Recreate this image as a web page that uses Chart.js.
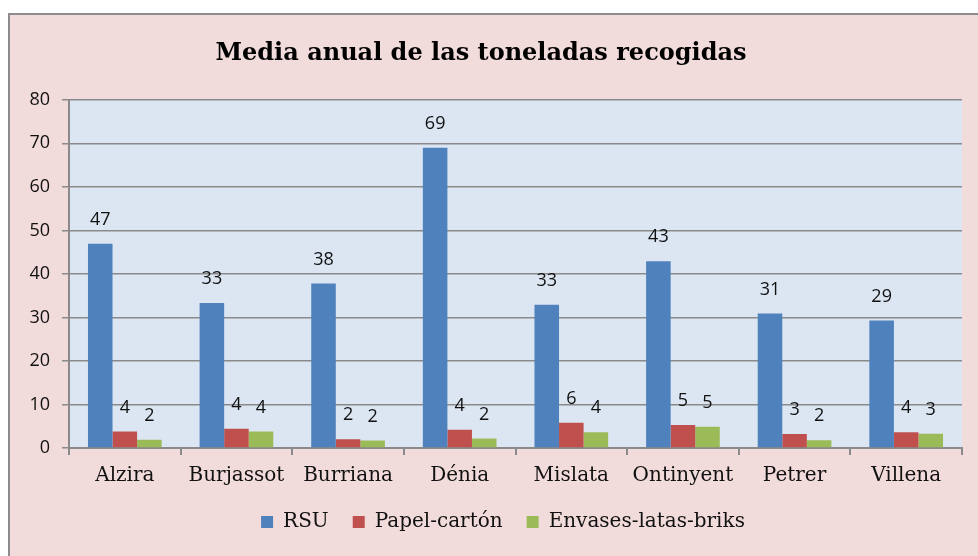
<!DOCTYPE html>
<html>
<head>
<meta charset="utf-8">
<script src="https://cdn.jsdelivr.net/npm/chart.js@4.4.1/dist/chart.umd.min.js"></script>
<style>
  html, body { margin: 0; padding: 0; background: #ffffff; }
  #frame {
    position: absolute; left: 8px; top: 13px; width: 990px; height: 570px;
    background: #f2dcdb; border: 2px solid #8c8c8c;
  }
  #wrap { position: absolute; left: 0; top: 0; width: 978px; height: 556px; }
</style>
</head>
<body>
<div id="frame"></div>
<div id="wrap"><canvas id="myChart" width="978" height="556"></canvas></div>
<script>
  const ciudades = ['Alzira', 'Burjassot', 'Burriana', 'Dénia', 'Mislata', 'Ontinyent', 'Petrer', 'Villena']
  const rsu = [46.9, 33.3, 37.8, 69.0, 32.9, 42.9, 30.9, 29.3]
  const papel = [3.8, 4.4, 2.0, 4.2, 5.8, 5.3, 3.2, 3.6]
  const envases = [1.9, 3.8, 1.7, 2.2, 3.6, 4.9, 1.8, 3.3]
  const yTicks = [0, 10, 20, 30, 40, 50, 60, 70, 80]

  const gris = '#8a8a8a'
  const serif = 'DejaVu Serif'
  const sans = 'Open Sans'

  // fondo azul del area de trazado
  const fondoPlot = {
    id: 'fondoPlot',
    beforeDraw(chart) {
      const a = chart.chartArea
      const ctx = chart.ctx
      ctx.save()
      ctx.fillStyle = '#dce6f2'
      ctx.fillRect(a.left, a.top, a.right - a.left, a.bottom - a.top)
      ctx.restore()
    }
  }

  // la leyenda va centrada bajo el area de trazado, no bajo todo el lienzo
  const moverLeyenda = {
    id: 'moverLeyenda',
    afterLayout(chart) {
      chart.legend.left += 22
      chart.legend.right += 22
    }
  }

  // etiquetas de valor encima de cada barra
  const etiquetas = {
    id: 'etiquetas',
    afterDatasetsDraw(chart) {
      const ctx = chart.ctx
      ctx.save()
      ctx.font = '18px "' + sans + '"'
      ctx.fillStyle = '#111111'
      ctx.textAlign = 'center'
      ctx.textBaseline = 'middle'
      chart.data.datasets.forEach(function(ds, i) {
        chart.getDatasetMeta(i).data.forEach(function(bar, j) {
          ctx.fillText(String(Math.round(ds.data[j])), bar.x, bar.y - 24)
        })
      })
      ctx.restore()
    }
  }

  const data = {
    labels: ciudades,
    datasets: [{
      label: 'RSU',
      backgroundColor: '#4f81bd',
      data: rsu,
    }, {
      label: 'Papel-cartón',
      backgroundColor: '#c0504d',
      data: papel,
    }, {
      label: 'Envases-latas-briks',
      backgroundColor: '#9bbb59',
      data: envases,
    }]
  }

  const config = {
    type: 'bar',
    data: data,
    options: {
      responsive: false,
      animation: false,
      datasets: { bar: { categoryPercentage: 0.66, barPercentage: 1 } },
      layout: { padding: { left: 0, right: 16, top: 0, bottom: 14 } },
      plugins: {
        title: {
          display: true,
          text: 'Media anual de las toneladas recogidas',
          color: '#000000',
          font: { family: serif, size: 24, weight: 'bold', lineHeight: 1.2 },
          padding: { top: 39, bottom: 32 }
        },
        legend: {
          position: 'bottom',
          labels: {
            color: '#111111',
            font: { family: serif, size: 20 },
            boxWidth: 12, boxHeight: 12,
            padding: 24
          }
        },
        tooltip: { enabled: false }
      },
      scales: {
        x: {
          grid: { offset: true, drawOnChartArea: false, color: gris, tickLength: 7, lineWidth: 2 },
          border: { color: gris, width: 2 },
          ticks: { color: '#111111', font: { family: serif, size: 20 }, padding: 9 },
          afterFit: function(scale) { scale.height = 40 }
        },
        y: {
          min: 0, max: 80,
          afterBuildTicks: function(scale) { scale.ticks = yTicks.map(function(v) { return { value: v } }) },
          grid: { color: gris, tickLength: 7, lineWidth: 1.5 },
          border: { color: gris, width: 2 },
          ticks: { color: '#111111', font: { family: sans, size: 18 }, padding: 12 },
          afterFit: function(scale) { scale.width = 69 }
        }
      }
    },
    plugins: [fondoPlot, moverLeyenda, etiquetas]
  }

  const myChart = new Chart(document.getElementById('myChart'), config)
</script>
</body>
</html>
